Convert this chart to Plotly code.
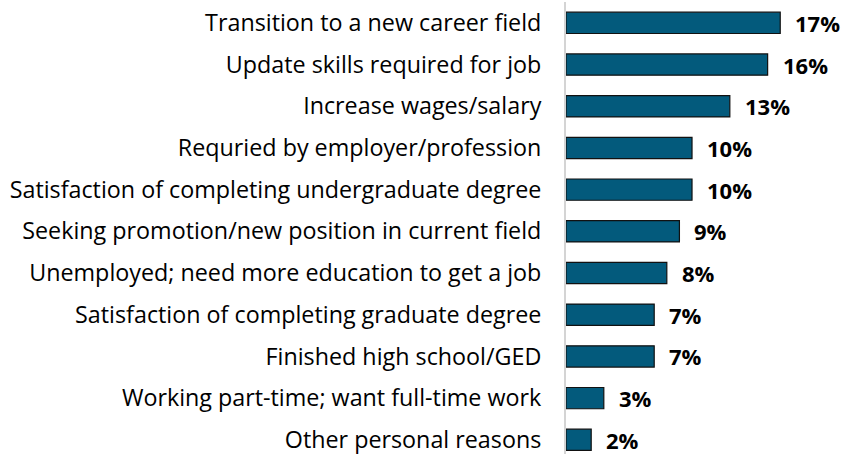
import plotly.graph_objects as go

categories = [
    "Transition to a new career field",
    "Update skills required for job",
    "Increase wages/salary",
    "Requried by employer/profession",
    "Satisfaction of completing undergraduate degree",
    "Seeking promotion/new position in current field",
    "Unemployed; need more education to get a job",
    "Satisfaction of completing graduate degree",
    "Finished high school/GED",
    "Working part-time; want full-time work",
    "Other personal reasons",
]
values = [17, 16, 13, 10, 10, 9, 8, 7, 7, 3, 2]
value_labels = [f"{v}%" for v in values]

fig = go.Figure(
    go.Bar(
        x=values,
        y=categories,
        orientation="h",
        marker=dict(color="#035A7C", line=dict(color="#111111", width=1.2)),
        hoverinfo="skip",
    )
)

for c, v, t in zip(categories, values, value_labels):
    fig.add_annotation(
        x=v, y=c, text=f"<b>{t}</b>", showarrow=False,
        xanchor="left", yanchor="middle", xshift=13,
        font=dict(family="Open Sans", size=22, color="#000000"),
    )

fig.update_layout(
    width=844, height=454,
    margin=dict(l=566, r=0, t=2, b=0),
    paper_bgcolor="white", plot_bgcolor="white",
    bargap=0.49,
    showlegend=False,
    xaxis=dict(range=[0, 22.06], visible=False, fixedrange=True),
    yaxis=dict(
        range=[10.34, -0.5], type="category",
        showline=True, linecolor="#D4D4D4", linewidth=2,
        ticks="", showgrid=False, zeroline=False,
        tickfont=dict(family="Open Sans", size=23.3, color="#000000"),
        ticklabelstandoff=18,
        automargin=False,
        fixedrange=True,
    ),
    font=dict(family="Open Sans"),
)

fig.write_html(
    "out.html",
    config={"displayModeBar": False},
    post_script="document.body.style.margin='0px';",
)
